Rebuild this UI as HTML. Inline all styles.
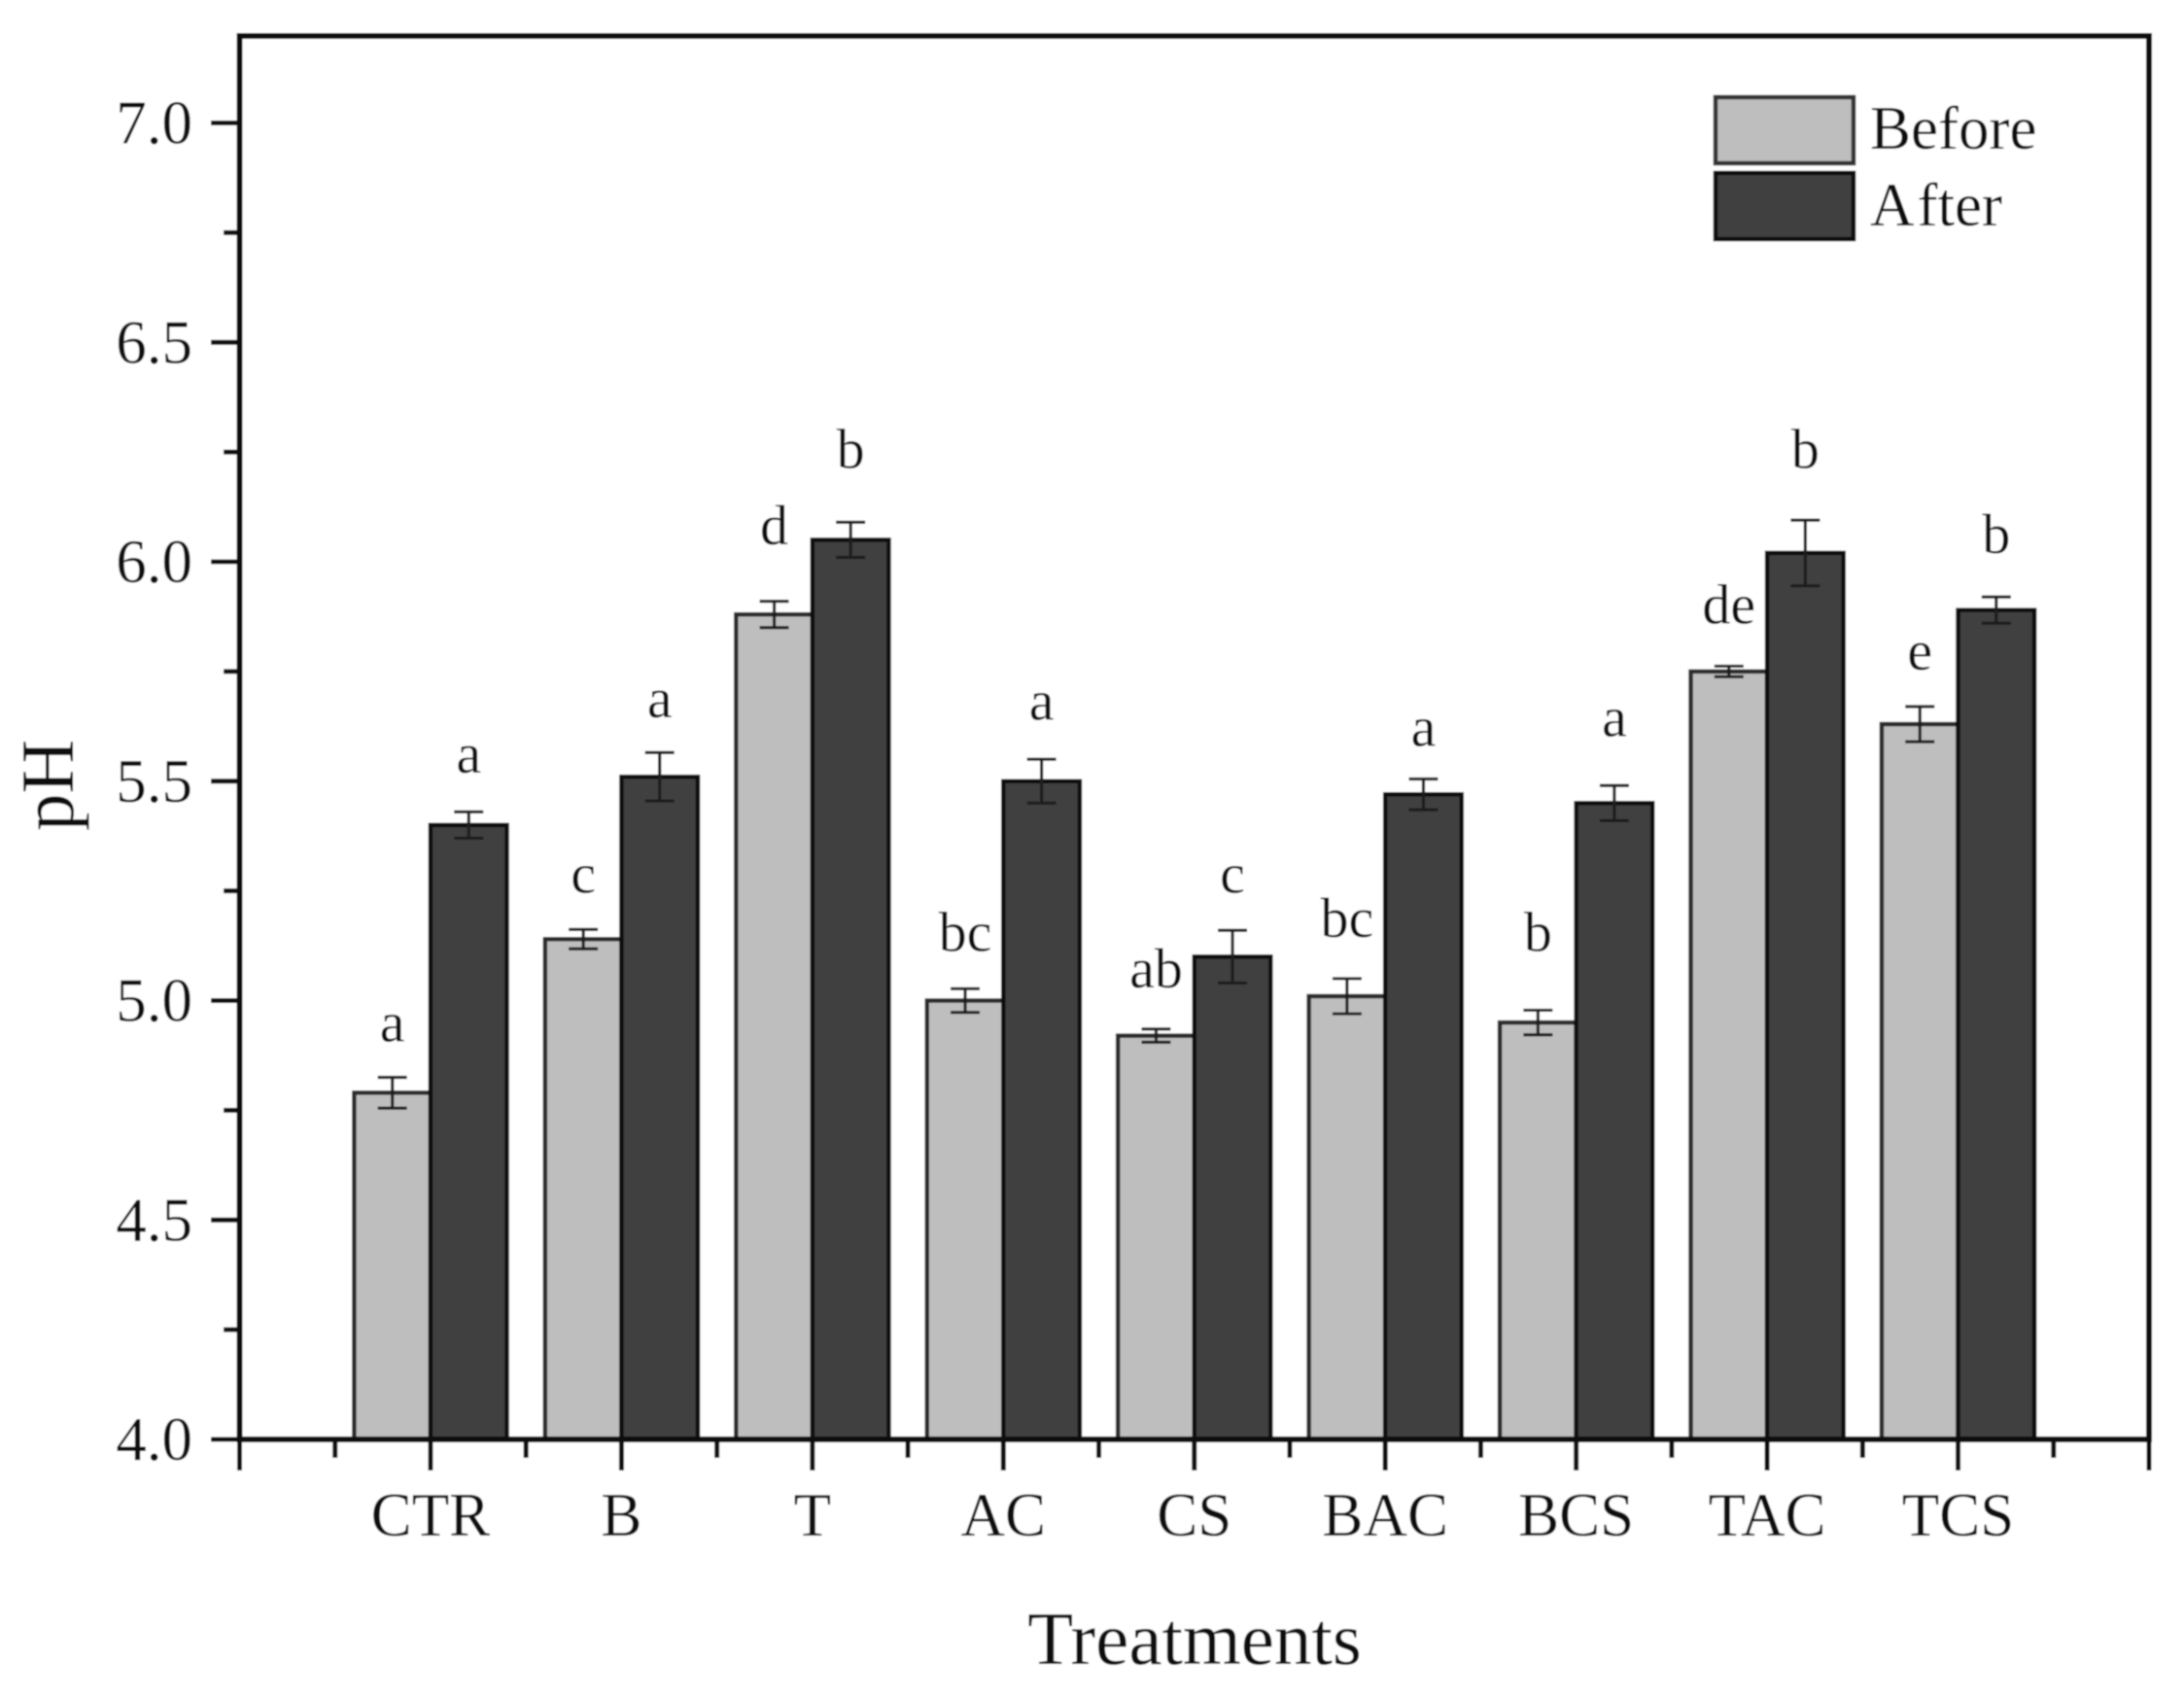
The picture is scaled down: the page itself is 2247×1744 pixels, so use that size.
<!DOCTYPE html>
<html lang="en">
<head>
<meta charset="utf-8">
<title>pH before and after treatments</title>
<style>
html,body{margin:0;padding:0;background:#fff;width:2247px;height:1744px;overflow:hidden}
svg{display:block}
text{font-family:"Liberation Serif",serif;fill:#0c0c0c}
</style>
</head>
<body>
<svg id="chart" xmlns="http://www.w3.org/2000/svg" width="2247" height="1744" viewBox="0 0 2247 1744">
  <defs><filter id="soft" x="0" y="0" width="100%" height="100%"><feGaussianBlur stdDeviation="0.8"/></filter></defs>
  <g id="root" filter="url(#soft)">
    <rect x="0" y="0" width="2247" height="1744" fill="#ffffff"/>
    <g id="bars"></g>
    <g id="errors"></g>
    <g id="letters"></g>
    <rect x="246.5" y="37" width="1964.5" height="1444" fill="none" stroke="#111" stroke-width="6"/>
    <g id="yaxis"></g>
    <g id="xaxis"></g>
    <text x="1229" y="1712" font-size="77" text-anchor="middle">Treatments</text>
    <text transform="translate(75,808) rotate(-90)" font-size="77" text-anchor="middle">pH</text>
    <g>
      <rect x="1765" y="100" width="142" height="68" fill="#bebebe" stroke="#333" stroke-width="4.5"/>
      <text x="1924" y="153" font-size="63">Before</text>
      <rect x="1765" y="178" width="142" height="68" fill="#404040" stroke="#111" stroke-width="4.5"/>
      <text x="1924" y="232" font-size="63">A<tspan dx="3">fter</tspan></text>
    </g>
  </g>
</svg>
<script>
const categories = ["CTR","B","T","AC","CS","BAC","BCS","TAC","TCS"];
const beforeValues = [4.79,5.14,5.88,5.00,4.92,5.01,4.95,5.75,5.63];
const afterValues = [5.40,5.51,6.05,5.50,5.10,5.47,5.45,6.02,5.89];
const beforeErrors = [0.035,0.022,0.03,0.027,0.015,0.04,0.028,0.012,0.04];
const afterErrors = [0.03,0.055,0.04,0.05,0.06,0.035,0.04,0.075,0.03];
const beforeLetters = ["a","c","d","bc","ab","bc","b","de","e"];
const afterLetters = ["a","a","b","a","c","a","a","b","b"];
const beforeLetterLevels = [4.947,5.286,6.08,5.153,5.07,5.185,5.153,5.899,5.794];
const afterLetterLevels = [5.559,5.686,6.254,5.68,5.286,5.62,5.642,6.254,6.06];
const yTickLabels = ["4.0","4.5","5.0","5.5","6.0","6.5","7.0"];

const NS = "http://www.w3.org/2000/svg";
const plotLeft = 246.5, plotRight = 2211, plotBottom = 1481, y7 = 126.5;
const X = i => plotLeft + (plotRight - plotLeft) * i / 10;
const Y = v => plotBottom - (v - 4) * (plotBottom - y7) / 3;
const barW = X(0.4) - X(0);

function make(parent, tag, attrs) {
  const el = document.createElementNS(NS, tag);
  for (const k in attrs) el.setAttribute(k, attrs[k]);
  parent.appendChild(el);
  return el;
}

const barsG = document.getElementById("bars");
const errG = document.getElementById("errors");
const letG = document.getElementById("letters");
const yG = document.getElementById("yaxis");
const xG = document.getElementById("xaxis");

function drawSeries(values, errors, letters, levels, offset, fill, stroke, key) {
  values.forEach((v, i) => {
    const cx = X(i + 1) + offset * barW / 2;
    const bar = make(barsG, "rect", {x: cx - barW / 2, y: Y(v), width: barW, height: Y(4) - Y(v), fill: fill, stroke: stroke, "stroke-width": 4.5});
    
    
    const e = errors[i];
    const err = make(errG, "path", {d: "M" + cx + " " + Y(v + e) + "V" + Y(v - e) + "M" + (cx - 15) + " " + Y(v + e) + "h30M" + (cx - 15) + " " + Y(v - e) + "h30", fill: "none", stroke: "#1c1c1c", "stroke-width": 3.2});
    
    
    const t = make(letG, "text", {x: cx, y: Y(levels[i]) + 18, "font-size": 58, "text-anchor": "middle"});
    t.textContent = letters[i];
    
    
  });
}
drawSeries(beforeValues, beforeErrors, beforeLetters, beforeLetterLevels, -1, "#bebebe", "#2a2a2a", "before");
drawSeries(afterValues, afterErrors, afterLetters, afterLetterLevels, 1, "#404040", "#0e0e0e", "after");

yTickLabels.forEach((lab, i) => {
  const v = parseFloat(lab);
  const tick = make(yG, "line", {x1: 217, x2: plotLeft, y1: Y(v), y2: Y(v), stroke: "#111", "stroke-width": 5});
  
  
  const t = make(yG, "text", {x: 198, y: Y(v) + 21, "font-size": 63, "text-anchor": "end"});
  t.textContent = lab;
  
  
  if (i < yTickLabels.length - 1) {
    const m = make(yG, "line", {x1: 230, x2: plotLeft, y1: Y(v + 0.25), y2: Y(v + 0.25), stroke: "#111", "stroke-width": 5});
    
    
  }
});

for (let k = 0; k <= 20; k++) {
  const major = k % 2 === 0;
  const tick = make(xG, "line", {x1: X(k / 2), x2: X(k / 2), y1: plotBottom, y2: plotBottom + (major ? 32 : 19), stroke: "#111", "stroke-width": 5});
  
  
}
categories.forEach((c, i) => {
  const t = make(xG, "text", {x: X(i + 1), y: 1580, "font-size": 63, "text-anchor": "middle"});
  t.textContent = c;
  
  
});
</script>
</body>
</html>
